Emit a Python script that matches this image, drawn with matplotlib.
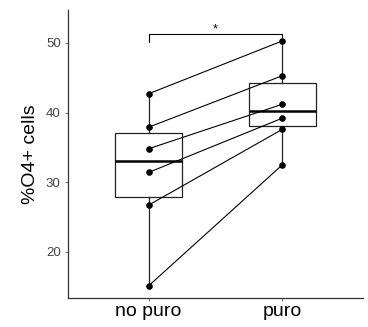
import matplotlib
matplotlib.use("Agg")
import matplotlib.pyplot as plt
import numpy as np

plt.rcParams['font.family'] = ['Liberation Sans', 'DejaVu Sans']

categories = ["no puro", "puro"]
no_puro = [42.7, 37.9, 34.8, 31.4, 26.7, 15.1]
puro = [50.3, 45.3, 41.2, 39.2, 37.6, 32.5]
yticks = [20, 30, 40, 50]
ylabel = "%O4+ cells"
sig_label = "*"

fig = plt.figure(figsize=(3.68, 3.27), dpi=100)
ax = fig.add_axes([0.1856, 0.0896, 0.80, 0.879])

pos = [1, 2]
ax.boxplot([no_puro, puro], positions=pos, widths=0.5, whis=(0, 100),
           showfliers=False, patch_artist=True,
           boxprops=dict(facecolor='white', edgecolor='#222222', linewidth=0.9),
           whiskerprops=dict(color='#222222', linewidth=0.9),
           capprops=dict(linewidth=0),
           medianprops=dict(color='black', linewidth=1.8),
           zorder=1)

for a, b in zip(no_puro, puro):
    ax.plot(pos, [a, b], color='black', linewidth=0.8, zorder=2)
ax.scatter([1]*len(no_puro), no_puro, s=14, color='black', zorder=3)
ax.scatter([2]*len(puro), puro, s=14, color='black', zorder=3)

# significance bracket
ax.plot([1, 1, 2, 2], [50.15, 51.3, 51.3, 50.9], color='black', linewidth=0.8)
ax.text(1.5, 51.1, sig_label, ha='center', va='bottom', fontsize=9)

ax.set_xlim(0.4, 2.6)
ax.set_ylim(13.4, 54.7)
ax.set_xticks(pos)
ax.set_xticklabels(categories, fontsize=14, color='black')
ax.set_yticks(yticks)
ax.set_yticklabels([str(t) for t in yticks], fontsize=9.5, color='#444444')
ax.set_ylabel(ylabel, fontsize=14, labelpad=5)
ax.tick_params(axis='both', length=2.5, width=0.6, color='#555555')
ax.tick_params(axis='x', pad=1)
ax.tick_params(axis='y', pad=3)
for s in ['top', 'right']:
    ax.spines[s].set_visible(False)
for s in ['left', 'bottom']:
    ax.spines[s].set_color('#333333')
    ax.spines[s].set_linewidth(0.9)

fig.savefig("out.png", dpi=100)
